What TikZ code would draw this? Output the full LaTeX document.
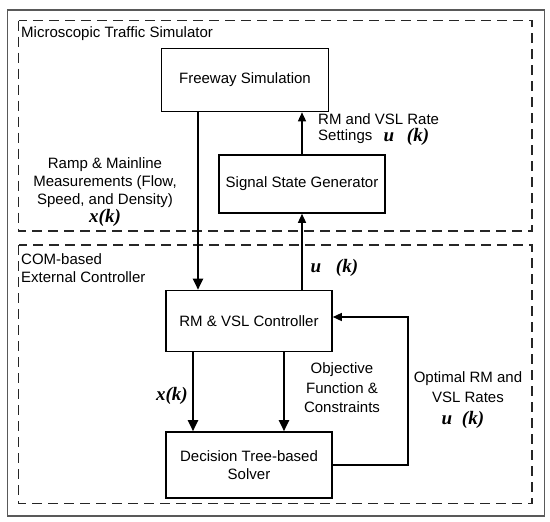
\documentclass[tikz,border=0pt]{standalone}
\usepackage{fontspec}
\setmainfont{Liberation Sans}
\newfontfamily\varserif{Liberation Serif}
\usetikzlibrary{arrows.meta}
\begin{document}
\begin{tikzpicture}[x=1pt,y=-1pt,
  font=\fontsize{15}{18}\selectfont,
  box/.style={draw, line width=1.6pt, minimum width=166pt, inner sep=0pt, align=center},
  arr/.style={line width=1.4pt, -{Triangle[length=9pt,width=8pt]}},
  thk/.style={line width=2pt, -{Triangle[length=11pt,width=10pt]}},
  region/.style={draw=black!85, line width=1.8pt, dash pattern=on 10pt off 6pt},
  frame/.style={draw=black!65, line width=1.5pt},
  var/.style={font=\fontsize{19}{20}\selectfont\varserif\bfseries\itshape, inner sep=0pt},
  lbl/.style={inner sep=0pt, align=center}
]
\useasboundingbox (0,0) rectangle (550,522);
% frames
\draw[frame] (7.5,10) rectangle (544.5,516);
\draw[region] (18.5,20.5) rectangle (532,231);
\draw[region] (18.5,245) rectangle (532,503.5);
% region titles
\node[lbl, anchor=west] (tsim) at (21,34) {Microscopic Traffic Simulator};
\node[lbl, anchor=north west, align=left] (tcom) at (21,253) {COM-based\\External Controller};
% blocks
\node[box, minimum width=167pt, minimum height=63pt] (fs) at (245,80) {Freeway Simulation};
\node[box, minimum height=58pt] (ssg) at (302,184) {Signal State Generator};
\node[box, minimum height=61pt] (rm) at (249,321) {RM \& VSL Controller};
\node[box, minimum height=66pt] (dts) at (249,465) {Decision Tree-based\\Solver};
% connectors
\draw[thk] ([xshift=-47pt]fs.south) -- ([xshift=-51pt]rm.north);
\draw[arr] (ssg.north) -- (ssg.north |- fs.south);
\draw[arr] ([xshift=53pt]rm.north) -- ([xshift=53pt]rm.north |- ssg.south);
\draw[thk] ([xshift=-56pt]rm.south) -- ([xshift=-56pt]rm.south |- dts.north);
\draw[thk] ([xshift=35pt]rm.south) -- ([xshift=35pt]rm.south |- dts.north);
\coordinate (fbc) at (408,465);
\draw[arr] (dts.east) -- (fbc) |- ([yshift=4pt]rm.east);
% labels
\node[lbl] (tramp) at (105,192) {Ramp \& Mainline\\Measurements (Flow,\\Speed, and Density)\\{\fontsize{19}{18}\selectfont\varserif\bfseries\itshape x(k)}};
\node[lbl, anchor=west] (trate) at (318,119) {RM and VSL Rate};
\node[lbl, anchor=west] (tset) at (318,137) {Settings};
\node[var] (u1) at (389,137) {u};
\node[var] (k1) at (418,137) {(k)};
\node[var] (u2) at (316,268) {u};
\node[var] (k2) at (347,268) {(k)};
\node[var] (x2) at (172,396) {x(k)};
\node[lbl, font=\fontsize{15}{19.5}\selectfont] (tobj) at (342,388) {Objective\\Function \&\\Constraints};
\node[lbl, font=\fontsize{15}{20}\selectfont] (topt) at (468,387) {Optimal RM and\\VSL Rates};
\node[var] (u3) at (447,420) {u};
\node[var] (k3) at (473,420) {(k)};
\end{tikzpicture}
\end{document}
